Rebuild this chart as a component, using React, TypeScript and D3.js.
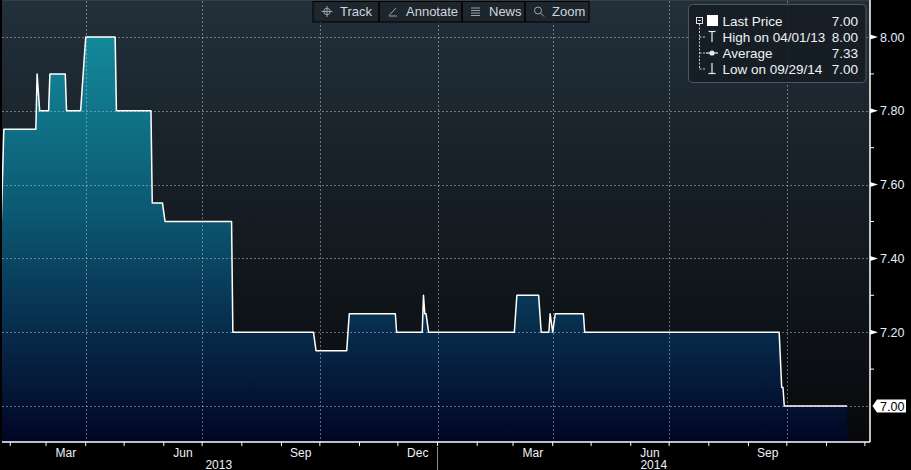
import * as d3 from "d3";

// price history (date of each corner of the step line)
const priceDates = [
  "2013-01-25", "2013-01-27", "2013-02-21", "2013-02-22", "2013-02-24", "2013-03-03",
  "2013-03-04", "2013-03-16", "2013-03-17", "2013-03-28", "2013-03-30", "2013-04-01",
  "2013-04-24", "2013-04-25", "2013-05-22", "2013-05-23", "2013-05-31", "2013-06-02",
  "2013-07-24", "2013-07-25", "2013-09-26", "2013-09-28", "2013-10-22", "2013-10-24",
  "2013-11-29", "2013-11-30", "2013-12-20", "2013-12-21", "2013-12-22", "2013-12-23",
  "2013-12-25", "2014-03-02", "2014-03-04", "2014-03-21", "2014-03-23", "2014-03-29",
  "2014-03-30", "2014-04-01", "2014-04-03", "2014-04-25", "2014-04-26", "2014-09-25",
  "2014-09-27", "2014-09-28", "2014-09-29", "2014-11-17",
];
const priceValues = [
  7.5, 7.75, 7.75, 7.9, 7.8, 7.8,
  7.9, 7.9, 7.8, 7.8, 7.9, 8.0,
  8.0, 7.8, 7.8, 7.55, 7.55, 7.5,
  7.5, 7.2, 7.2, 7.15, 7.15, 7.25,
  7.25, 7.2, 7.2, 7.3, 7.25, 7.25,
  7.2, 7.2, 7.3, 7.3, 7.2, 7.2,
  7.25, 7.2, 7.25, 7.25, 7.2, 7.2,
  7.05, 7.05, 7.0, 7.0,
];

const yTicks = [7.0, 7.2, 7.4, 7.6, 7.8, 8.0];
const yMinorTicks = [7.1, 7.3, 7.5, 7.7, 7.9];
const labelMonths = [2, 5, 8, 11]; // Mar, Jun, Sep, Dec

const legendRows = [
  { label: "Last Price", value: "7.00" },
  { label: "High on 04/01/13", value: "8.00" },
  { label: "Average", value: "7.33" },
  { label: "Low on 09/29/14", value: "7.00" },
];
const toolbarItems = ["Track", "Annotate", "News", "Zoom"];
const lastPrice = "7.00";

const W = 911;
const H = 470;
const plotRight = 870;
const plotBottom = 442;
const font = "'Liberation Sans', Arial, sans-serif";

const parse = d3.timeParse("%Y-%m-%d");
const data = priceDates.map((d, i) => ({ date: parse(d) as Date, value: priceValues[i] }));

const x = d3
  .scaleTime()
  .domain([new Date(2013, 0, 24), new Date(2014, 11, 5)])
  .range([0, plotRight]);
const y = d3.scaleLinear().domain([7, 8]).range([406, 37]);

const line = d3
  .line<{ date: Date; value: number }>()
  .x((d) => x(d.date))
  .y((d) => y(d.value));
const area = d3
  .area<{ date: Date; value: number }>()
  .x((d) => x(d.date))
  .y0(plotBottom)
  .y1((d) => y(d.value));

const gridColor = "rgba(190,200,210,0.5)";

const Toolbar = () => {
  const widths = [66, 83, 63, 64];
  let left = 313;
  return (
    <g fontFamily={font} fontSize={13}>
      <rect x={313} y={1.5} width={276} height={20.5} fill="#1c242b" fillOpacity={0.88} stroke="#000" />
      {toolbarItems.map((name, i) => {
        const bx = left;
        left += widths[i];
        const ix = bx + 14;
        return (
          <g key={name}>
            {i > 0 && <line x1={bx} x2={bx} y1={2} y2={22} stroke="#000" strokeWidth={1.5} />}
            {i === 0 && (
              <g stroke="#9aa4ad" fill="none" strokeWidth={1}>
                <circle cx={ix} cy={11.5} r={3.2} />
                <line x1={ix - 5.5} x2={ix + 5.5} y1={11.5} y2={11.5} />
                <line x1={ix} x2={ix} y1={6} y2={17} />
              </g>
            )}
            {i === 1 && (
              <g stroke="#9aa4ad" strokeWidth={1}>
                <line x1={ix - 4} x2={ix + 3} y1={15.5} y2={8} />
                <line x1={ix - 4} x2={ix + 4} y1={16} y2={16} />
              </g>
            )}
            {i === 2 && (
              <g stroke="#9aa4ad" strokeWidth={1}>
                {[8, 10.5, 13, 15.5].map((ly) => (
                  <line key={ly} x1={ix - 5} x2={ix + 4} y1={ly} y2={ly} />
                ))}
              </g>
            )}
            {i === 3 && (
              <g stroke="#9aa4ad" fill="none" strokeWidth={1}>
                <circle cx={ix - 1} cy={10.5} r={3.5} />
                <line x1={ix + 1.5} x2={ix + 5} y1={13} y2={16.5} />
              </g>
            )}
            <text x={bx + 27} y={16} fill="#cdd6de">
              {name}
            </text>
          </g>
        );
      })}
    </g>
  );
};

const Legend = () => {
  const rowY = [21, 37, 53, 69];
  return (
    <g fontFamily={font} fontSize={13.5}>
      <rect x={688.5} y={4.5} width={177.5} height={78} rx={4} fill="#161d23" fillOpacity={0.88} stroke="#50565c" />
      {/* tree connectors */}
      <g stroke="#c8ccd0" strokeWidth={1} strokeDasharray="2,1.5">
        <line x1={699.5} x2={699.5} y1={24} y2={69} />
        <line x1={699.5} x2={706} y1={37} y2={37} />
        <line x1={699.5} x2={706} y1={53} y2={53} />
        <line x1={699.5} x2={706} y1={69} y2={69} />
      </g>
      <rect x={696.5} y={17.5} width={6} height={6} fill="#161d23" stroke="#e0e4e8" />
      <line x1={698} x2={701} y1={20.5} y2={20.5} stroke="#e0e4e8" />
      <rect x={707} y={15} width={11} height={11} fill="#fff" />
      <g stroke="#e8ecf0" strokeWidth={1.2} fill="none">
        <line x1={708.5} x2={715.5} y1={31.5} y2={31.5} />
        <line x1={712} x2={712} y1={31.5} y2={42} />
        <line x1={706} x2={718} y1={53} y2={53} />
        <circle cx={712} cy={53} r={2} fill="#e8ecf0" />
        <line x1={712} x2={712} y1={63} y2={73.5} />
        <line x1={708.5} x2={715.5} y1={73.5} y2={73.5} />
      </g>
      {legendRows.map((r, i) => (
        <g key={r.label}>
          <text x={722.5} y={rowY[i] + 5} fill="#f0f2f4">
            {r.label}
          </text>
          <text x={858} y={rowY[i] + 5} fill="#f0f2f4" textAnchor="end">
            {r.value}
          </text>
        </g>
      ))}
    </g>
  );
};

export default function App() {
  const monthTicks = x.ticks(d3.timeMonth.every(1)!);
  const fmtMonth = d3.timeFormat("%b");
  const yearStarts = [new Date(2013, 0, 1), new Date(2014, 0, 1), new Date(2015, 0, 1)];
  const [x0, x1] = x.range();

  return (
    <svg width={W} height={H} style={{ position: "absolute", left: 0, top: 0, background: "#000" }}>
      <defs>
        <linearGradient id="bg" gradientUnits="userSpaceOnUse" x1={0} y1={0} x2={0} y2={plotBottom}>
          <stop offset="0" stopColor="#22303b" />
          <stop offset="0.55" stopColor="#131a20" />
          <stop offset="1" stopColor="#07080b" />
        </linearGradient>
        <linearGradient id="fill" gradientUnits="userSpaceOnUse" x1={0} y1={37} x2={0} y2={plotBottom}>
          <stop offset="0" stopColor="#13899a" />
          <stop offset="0.45" stopColor="#0b5670" />
          <stop offset="0.72" stopColor="#072c4c" />
          <stop offset="1" stopColor="#020524" />
        </linearGradient>
      </defs>

      <rect x={2} y={1} width={plotRight - 2} height={plotBottom - 1} fill="url(#bg)" />
      <line x1={2} x2={plotRight} y1={0.5} y2={0.5} stroke="#3a3d40" />

      <path d={area(data) ?? ""} fill="url(#fill)" />

      {/* grid */}
      <g stroke={gridColor} strokeWidth={1} strokeDasharray="2,2">
        {yTicks.map((t) => (
          <line key={t} x1={2} x2={plotRight} y1={Math.round(y(t)) + 0.5} y2={Math.round(y(t)) + 0.5} />
        ))}
        {monthTicks
          .filter((d) => d.getMonth() % 3 === 0)
          .map((d) => (
            <line key={+d} x1={Math.round(x(d)) + 0.5} x2={Math.round(x(d)) + 0.5} y1={1} y2={plotBottom} />
          ))}
      </g>

      <path d={line(data) ?? ""} fill="none" stroke="#fff" strokeWidth={1.5} strokeLinejoin="round" />

      <rect x={0} y={0} width={2} height={H} fill="#000" />

      {/* axes */}
      <line x1={plotRight} x2={plotRight} y1={0} y2={plotBottom} stroke="#fff" strokeWidth={1.5} />
      <line x1={2} x2={plotRight} y1={plotBottom} y2={plotBottom} stroke="#fff" strokeWidth={1.5} />

      <g fontFamily={font} fontSize={12.5} fill="#e6eefa">
        {yTicks
          .filter((t) => t > 7)
          .map((t) => (
            <g key={t}>
              <path d={`M${plotRight},${y(t) - 2.5}L${plotRight},${y(t) + 2.5}L${plotRight + 8},${y(t)}Z`} fill="#fff" />
              <text x={880} y={y(t) + 4.5}>
                {d3.format(".2f")(t)}
              </text>
            </g>
          ))}
        {yMinorTicks.map((t) => (
          <line key={t} x1={plotRight} x2={plotRight + 4} y1={y(t)} y2={y(t)} stroke="#fff" />
        ))}
      </g>

      {/* last price tag */}
      <g fontFamily={font} fontSize={12.5}>
        <path
          d={`M${plotRight + 2.5},${y(7)}L${plotRight + 7},${y(7) - 6.5}L906,${y(7) - 6.5}L906,${y(7) + 6.5}L${plotRight + 7},${y(7) + 6.5}Z`}
          fill="#fff"
        />
        <text x={880} y={y(7) + 4.5} fill="#000">
          {lastPrice}
        </text>
      </g>

      {/* bottom axis */}
      <g fontFamily={font} fontSize={12} fill="#eef2f8">
        {monthTicks.map((d) => (
          <line key={+d} x1={x(d)} x2={x(d)} y1={plotBottom} y2={plotBottom + 4} stroke="#fff" />
        ))}
        {monthTicks
          .filter((d) => labelMonths.includes(d.getMonth()) && x(d3.timeMonth.offset(d, 1)) <= x1)
          .map((d) => {
            const mid = (x(d) + x(d3.timeMonth.offset(d, 1))) / 2;
            return (
              <text key={+d} x={mid} y={457} textAnchor="middle">
                {fmtMonth(d)}
              </text>
            );
          })}
        {yearStarts.slice(0, 2).map((d, i) => {
          const a = Math.max(x0, x(d));
          const b = Math.min(x1, x(yearStarts[i + 1]));
          return (
            <text key={i} x={(a + b) / 2} y={469} textAnchor="middle">
              {d.getFullYear()}
            </text>
          );
        })}
        <line x1={x(yearStarts[1])} x2={x(yearStarts[1])} y1={447} y2={H} stroke="#8a8f94" />
      </g>

      <Toolbar />
      <Legend />
    </svg>
  );
}
